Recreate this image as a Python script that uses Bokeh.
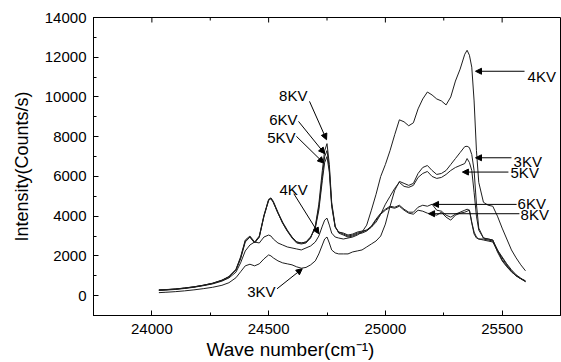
import math
from bokeh.plotting import figure
from bokeh.models import Range1d, SingleIntervalTicker, Arrow, NormalHead, Label, Title
from bokeh.embed import file_html
from bokeh.resources import INLINE

# ---------------- data ----------------
wavenumber = [
    24030, 24060, 24100, 24140, 24180, 24220, 24260, 24300, 24330, 24360,
    24380, 24400, 24420, 24440, 24460, 24480, 24500, 24510, 24520, 24540,
    24560, 24580, 24600, 24620, 24640, 24660, 24680, 24700, 24715, 24730,
    24740, 24750, 24760, 24770, 24785, 24800, 24820, 24840, 24860, 24880,
    24900, 24920, 24940, 24960, 24980, 25000, 25020, 25040, 25060, 25080,
    25100, 25120, 25140, 25160, 25180, 25200, 25220, 25240, 25260, 25280,
    25300, 25320, 25340, 25350, 25360, 25370, 25380, 25390, 25400, 25420,
    25440, 25460, 25480, 25500, 25520, 25540, 25560, 25580, 25600]

kv3 = [
    150, 170, 200, 240, 290, 350, 420, 520, 650, 900,
    1200, 1500, 1580, 1500, 1600, 1850, 2050, 2000, 1900, 1750,
    1650, 1600, 1550, 1450, 1380, 1420, 1550, 1750, 2100, 2550,
    2850, 2950, 2650, 2300, 2150, 2100, 2100, 2100, 2200, 2250,
    2300, 2450, 2600, 2750, 3000, 3600, 4500, 5300, 5750, 5650,
    5550, 5650, 6150, 6450, 6550, 6300, 6100, 6150, 6300, 6600,
    6900, 7200, 7500, 7520, 7450, 7100, 6300, 4600, 3400, 2900,
    2850, 2800, 2200, 1750, 1450, 1200, 1000, 850, 750]

kv4 = [
    260, 280, 310, 360, 420, 500, 590, 730, 890, 1180,
    1650, 2250, 2550, 2700, 2650, 2950, 3050, 3000, 2850, 2650,
    2550, 2450, 2400, 2350, 2300, 2400, 2500, 2700, 3000, 3500,
    3800, 3900, 3550, 3150, 2950, 2900, 2850, 2900, 2950, 3050,
    3200, 3550, 4300, 5100, 6000, 6600, 7300, 8100, 8850, 8750,
    8550, 8700, 9400, 9900, 10250, 10100, 9900, 9800, 9600, 10000,
    10800, 11400, 12150, 12350, 12100, 11500, 9800, 7300, 5700, 4700,
    4550, 4500, 4000, 3400, 2850, 2300, 1900, 1550, 1250]

kv5 = [
    275, 295, 325, 375, 435, 515, 610, 760, 940, 1280,
    1850, 2700, 2950, 2650, 2950, 4000, 4800, 4880, 4700, 4150,
    3650, 3250, 2950, 2700, 2650, 2700, 2950, 3400, 4300, 5800,
    6700, 7000, 6200, 4500, 3450, 3200, 3150, 3050, 3100, 3200,
    3250, 3300, 3450, 3700, 4100, 4600, 5000, 5400, 5700, 5500,
    5450, 5550, 5950, 6150, 6250, 6000, 5900, 5950, 6100, 6300,
    6450, 6550, 6650, 6900, 6700, 6300, 5200, 4000, 3300, 2900,
    2850, 2800, 2300, 1800, 1500, 1200, 1000, 850, 720]

kv6 = [
    285, 305, 335, 385, 445, 525, 625, 780, 960, 1320,
    1950, 2800, 3000, 2700, 3000, 4050, 4850, 4920, 4750, 4200,
    3700, 3300, 2950, 2700, 2650, 2700, 2950, 3450, 4450, 6000,
    7000, 7300, 6400, 4600, 3450, 3200, 3100, 3000, 3050, 3150,
    3200, 3300, 3500, 3850, 4150, 4350, 4500, 4450, 4550, 4350,
    4200, 4200, 4450, 4550, 4500, 4600, 4300, 4250, 4050, 3950,
    4100, 4200, 4300, 4350, 4300, 3650, 3100, 2900, 2850, 2850,
    2800, 2750, 2300, 1950, 1600, 1300, 1050, 880, 720]

kv8 = [
    290, 300, 330, 380, 440, 520, 620, 770, 950, 1300,
    1900, 2750, 2950, 2650, 2950, 4000, 4800, 4900, 4700, 4150,
    3650, 3250, 2900, 2650, 2600, 2650, 2900, 3500, 4600, 6300,
    7300, 7650, 6600, 4700, 3500, 3150, 3050, 2950, 3000, 3100,
    3150, 3250, 3450, 3800, 4100, 4300, 4450, 4400, 4500, 4300,
    4150, 4100, 4300, 4250, 4150, 4100, 4050, 4200, 3950, 3800,
    4050, 4150, 4200, 4250, 4300, 3700, 3200, 2950, 2850, 2800,
    2750, 2700, 2250, 1900, 1550, 1250, 1000, 850, 700]

series = [kv3, kv4, kv5, kv6, kv8]

x_start, x_end = 23750, 25750
y_start, y_end = -1000, 14000
x_ticks_interval = 500
y_ticks_interval = 2000

# annotation texts: (text, x, y, align)
label_texts = [
    ("8KV", 24666, 10060, "right"),
    ("6KV", 24624, 8875, "right"),
    ("5KV", 24615, 7943, "right"),
    ("4KV", 24607, 5348, "center"),
    ("3KV", 24469, 208, "center"),
    ("4KV", 25609, 11042, "left"),
    ("3KV", 25549, 6759, "left"),
    ("5KV", 25536, 6179, "left"),
    ("6KV", 25566, 4643, "left"),
    ("8KV", 25579, 4088, "left"),
]
# arrows: (x_start, y_start, x_end, y_end)
arrows = [
    (24675, 9780, 24748, 7850),
    (24628, 8770, 24740, 7147),
    (24619, 8018, 24736, 6673),
    (24608, 5131, 24715, 3116),
    (24536, 344, 24644, 1352),
    (25596, 11294, 25386, 11294),
    (25540, 6939, 25386, 6939),
    (25527, 6220, 25330, 6220),
    (25562, 4592, 25202, 4592),
    (25574, 4123, 25185, 4123),
]

FONT = "Liberation Sans"

p = figure(width=561, height=362,
           x_range=Range1d(x_start, x_end), y_range=Range1d(y_start, y_end),
           output_backend="svg", toolbar_location=None,
           min_border_left=93, min_border_right=1,
           min_border_top=17, min_border_bottom=47)

p.xgrid.visible = False
p.ygrid.visible = False
p.outline_line_color = "black"
p.outline_line_width = 1
p.background_fill_color = "white"
p.border_fill_color = "white"

for s in series:
    p.line(wavenumber, s, line_color="#1e1e1e", line_width=1)

p.xaxis.ticker = SingleIntervalTicker(interval=x_ticks_interval, num_minor_ticks=2)
p.yaxis.ticker = SingleIntervalTicker(interval=y_ticks_interval, num_minor_ticks=2)
for ax in (p.xaxis[0], p.yaxis[0]):
    ax.major_tick_in = 5
    ax.major_tick_out = 0
    ax.minor_tick_in = 3
    ax.minor_tick_out = 0
    ax.axis_line_color = "black"
    ax.major_tick_line_color = "black"
    ax.minor_tick_line_color = "black"
    ax.major_label_text_font = FONT
    ax.major_label_text_font_size = "15px"
    ax.major_label_text_color = "black"
    ax.axis_label_text_font = FONT
    ax.axis_label_text_font_style = "normal"
    ax.axis_label_text_font_size = "18px"
    ax.axis_label_text_color = "black"

p.yaxis.major_label_standoff = 7
p.xaxis.major_label_standoff = 8
p.yaxis.axis_label = "Intensity(Counts/s)"
p.yaxis.axis_label_standoff = 10
p.yaxis.major_label_orientation = "horizontal"

# inward tick marks on the top edge of the frame (mirror of the bottom axis)
top_major = list(range(24000, x_end, x_ticks_interval))
top_minor = list(range(24000 + x_ticks_interval // 2, x_end, x_ticks_interval))
p.scatter(top_major, [y_end] * len(top_major), marker="dash", angle=math.pi / 2,
          size=10, line_color="black", line_width=1)
p.scatter(top_minor, [y_end] * len(top_minor), marker="dash", angle=math.pi / 2,
          size=6, line_color="black", line_width=1)

xtitle = Title(text="Wave number(cm\u207b\u00b9)", align="left", offset=113,
               text_font=FONT, text_font_size="19px", text_font_style="normal",
               text_color="black", standoff=0)
p.add_layout(xtitle, "below")

for (t, x, y, al) in label_texts:
    p.add_layout(Label(x=x, y=y, text=t, text_font=FONT, text_font_size="15px",
                       text_align=al, text_baseline="middle", text_color="black"))

for (xs, ys, xe, ye) in arrows:
    p.add_layout(Arrow(end=NormalHead(size=6, fill_color="black", line_color="black", line_width=1),
                       x_start=xs, y_start=ys, x_end=xe, y_end=ye,
                       line_color="black", line_width=1))

open("out.html", "w").write(file_html(p, INLINE))
